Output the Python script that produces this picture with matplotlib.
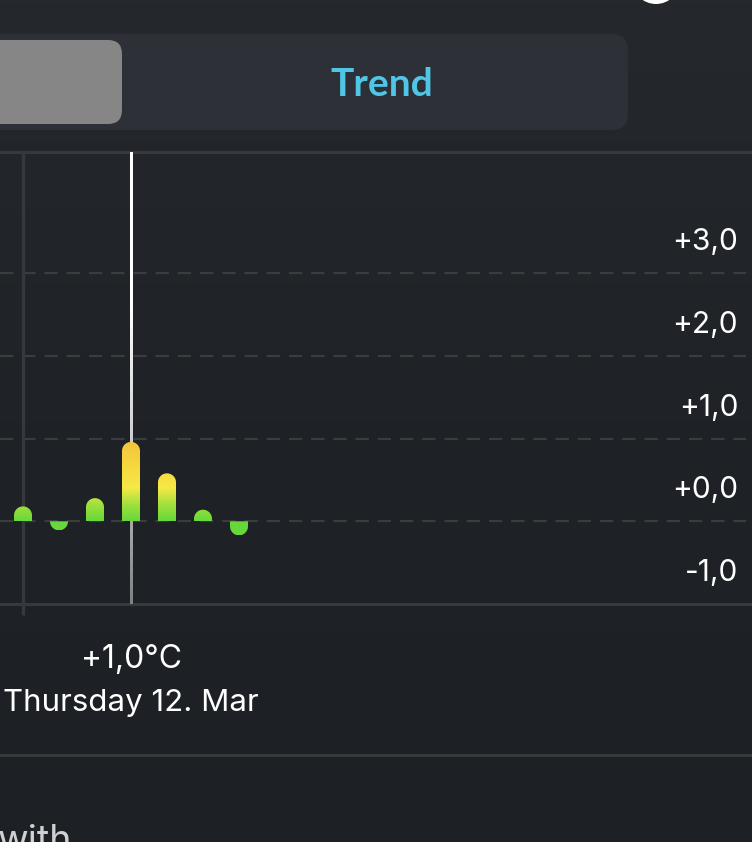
import numpy as np
import matplotlib.pyplot as plt
from matplotlib.patches import FancyBboxPatch, PathPatch, Circle
from matplotlib.path import Path
from matplotlib.colors import LinearSegmentedColormap, Normalize
from matplotlib.lines import Line2D

# Data (temperature trend, deg C)
bar_idx = [0, 1, 2, 3, 4, 5, 6]
bar_values = [0.18, -0.11, 0.28, 0.96, 0.58, 0.14, -0.17]
y_ticks = [-1, 0, 1, 2, 3]
y_labels = ['-1,0', '+0,0', '+1,0', '+2,0', '+3,0']
selected = 3
marker_idx = 0
sel_value_text = '+1,0°C'
sel_date_text = 'Thursday 12. Mar'
tab_label = 'Trend'

W, H = 752, 842
BG = '#202328'

fig = plt.figure(figsize=(W / 100, H / 100), dpi=100, facecolor=BG)

# background in pixel coordinates
bg = fig.add_axes([0, 0, 1, 1])
bg.set_xlim(0, W)
bg.set_ylim(H, 0)
bg.axis('off')
grad = np.linspace(0, 1, 256).reshape(-1, 1)
bg_cmap = LinearSegmentedColormap.from_list('bg', ['#25282d', '#1f2226', '#1d2024'])
bg.imshow(grad, cmap=bg_cmap, extent=[0, W, H, 0], aspect='auto', zorder=0)

# segmented control
bg.add_patch(FancyBboxPatch((-40, 34), 668, 96, boxstyle='round,pad=0,rounding_size=16',
                            fc='#2d3037', ec='none', zorder=1))
bg.add_patch(FancyBboxPatch((-40, 40), 162, 84, boxstyle='round,pad=0,rounding_size=14',
                            fc='#868686', ec='none', zorder=2))
bg.text(382, 85, tab_label, color='#4fc6e6', fontsize=28, family='Lato',
        fontweight='bold', ha='center', va='center', zorder=3)
bg.add_patch(Circle((656, -20), 24, fc='white', ec='none', zorder=3))

# separator line under the date text
bg.add_line(Line2D([0, W], [755, 755], color='#36383b', lw=2.2, zorder=2))

bg.text(131, 659, sel_value_text, color='white', fontsize=23, family='Inter',
        ha='center', va='center', zorder=3)
bg.text(131, 703, sel_date_text, color='white', fontsize=22.5, family='Inter',
        ha='center', va='center', zorder=3)
bg.text(-2, 852, 'with', color='#d0d0d0', fontsize=27, family='Inter',
        ha='left', va='baseline', zorder=3)

# chart axes: x is bar index (36 px apart), y in degrees
top_px, bot_px = 152, 604
ax = fig.add_axes([0, (H - bot_px) / H, 1, (bot_px - top_px) / H])
ax.patch.set_alpha(0)
px_per_unit = 82.7
ymin = -1.0
ymax = ymin + (bot_px - top_px) / px_per_unit
xmin = -23 / 36
xmax = xmin + W / 36
ax.set_xlim(xmin, xmax)
ax.set_ylim(ymin, ymax)
ax.axis('off')

for t, lab in zip(y_ticks, y_labels):
    if t > ymin:
        ax.axhline(t, xmin=0, xmax=746 / W, color='#3b3c3e', lw=1.6,
                   dashes=(6, 4), zorder=1)
    ax.text(738 / W, t + 0.375, lab, color='white', fontsize=21.5,
            family='Inter', ha='right', va='center',
            transform=ax.get_yaxis_transform(), zorder=3)

# solid frame lines top and bottom
ax.axhline(ymax - 0.005, color='#38393c', lw=2.2, zorder=1, clip_on=False)
ax.axhline(ymin, color='#38393c', lw=2.2, zorder=1, clip_on=False)

# marker line (grey) extending a bit below the frame
ax.plot([marker_idx, marker_idx], [ymin - 0.13, ymax], color='#35383c', lw=2.4,
        zorder=1, clip_on=False, solid_capstyle='butt')

# selected line: white fading to grey (thin gradient image)
lw_x = 1.3 / 36
line_cmap = LinearSegmentedColormap.from_list('sel', ['#808386', '#c8c9cb', '#ffffff', '#ffffff'])
ax.imshow(np.linspace(1, 0, 200).reshape(-1, 1), cmap=line_cmap,
          extent=[selected - lw_x, selected + lw_x, ymin, ymax],
          aspect='auto', zorder=2, interpolation='bilinear')

# bars with rounded outer end and value-based gradient
bar_cmap = LinearSegmentedColormap.from_list(
    'bar', [(0.0, '#67d83b'), (0.2, '#a3e13d'), (0.4, '#f7e946'),
            (0.65, '#f6d940'), (1.0, '#f4c13a')])
norm = Normalize(0, 1)
hw = 9 / 36
ry0 = 9 / px_per_unit
for i, v in zip(bar_idx, bar_values):
    s = 1 if v >= 0 else -1
    ry = min(ry0, abs(v))
    th = np.linspace(np.pi, 0, 30)
    arc_x = i + hw * np.cos(th)
    arc_y = v - s * ry + s * ry * np.sin(th)
    verts = [(i - hw, 0)] + list(zip(arc_x, arc_y)) + [(i + hw, 0), (i - hw, 0)]
    codes = [Path.MOVETO] + [Path.LINETO] * (len(verts) - 2) + [Path.CLOSEPOLY]
    clip = PathPatch(Path(verts, codes), fc='none', ec='none')
    ax.add_patch(clip)
    lo, hi = min(0, v), max(0, v)
    vals = np.linspace(hi, lo, 100).reshape(-1, 1)
    im = ax.imshow(vals, cmap=bar_cmap, norm=norm, extent=[i - hw, i + hw, lo, hi],
                   aspect='auto', zorder=3, interpolation='bilinear')
    im.set_clip_path(clip)

ax.set_xlim(xmin, xmax)
ax.set_ylim(ymin, ymax)

fig.savefig('out.png', dpi=100, facecolor=BG)
